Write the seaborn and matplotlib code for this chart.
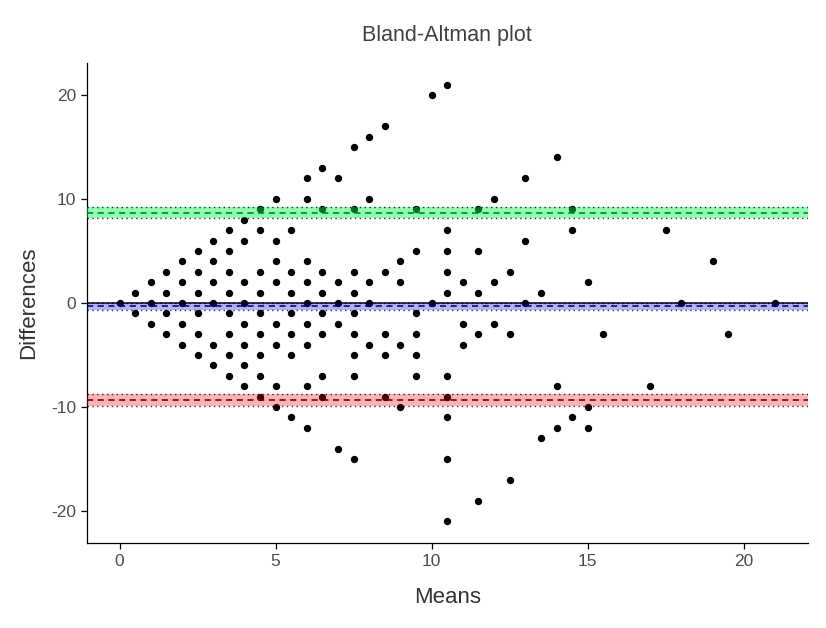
import numpy as np
import pandas as pd
import matplotlib
matplotlib.use("Agg")
import matplotlib.pyplot as plt
import seaborn as sns

# means (x) and differences (y)
means = [0,
         0.5, 0.5,
         1, 1, 1,
         1.5, 1.5, 1.5, 1.5,
         2, 2, 2, 2, 2,
         2.5, 2.5, 2.5, 2.5, 2.5, 2.5,
         3, 3, 3, 3, 3, 3,
         3.5, 3.5, 3.5, 3.5, 3.5, 3.5, 3.5, 3.5,
         4, 4, 4, 4, 4, 4, 4, 4,
         4.5, 4.5, 4.5, 4.5, 4.5, 4.5, 4.5, 4.5, 4.5,
         5, 5, 5, 5, 5, 5, 5, 5,
         5.5, 5.5, 5.5, 5.5, 5.5, 5.5, 5.5,
         6, 6, 6, 6, 6, 6, 6, 6, 6,
         6.5, 6.5, 6.5, 6.5, 6.5, 6.5, 6.5, 6.5,
         7, 7, 7, 7, 7,
         7.5, 7.5, 7.5, 7.5, 7.5, 7.5, 7.5, 7.5, 7.5,
         8, 8, 8, 8, 8,
         8.5, 8.5, 8.5, 8.5, 8.5,
         9, 9, 9, 9,
         9.5, 9.5, 9.5, 9.5, 9.5, 9.5,
         10, 10,
         10.5, 10.5, 10.5, 10.5, 10.5, 10.5, 10.5, 10.5, 10.5, 10.5,
         11, 11, 11,
         11.5, 11.5, 11.5, 11.5, 11.5,
         12, 12, 12,
         12.5, 12.5, 12.5,
         13, 13, 13,
         13.5, 13.5,
         14, 14, 14,
         14.5, 14.5, 14.5,
         15, 15, 15,
         15.5,
         17, 17.5, 18, 19, 19.5, 21]
diffs = [0,
         1, -1,
         2, 0, -2,
         3, 1, -1, -3,
         4, 2, 0, -2, -4,
         5, 3, 1, -1, -3, -5,
         6, 4, 2, 0, -4, -6,
         7, 5, 3, 1, -1, -3, -5, -7,
         8, 6, 2, 0, -2, -4, -6, -8,
         9, 7, 3, 1, -1, -3, -5, -7, -9,
         10, 6, 4, 2, -2, -4, -8, -10,
         7, 3, 1, -1, -3, -5, -11,
         12, 10, 4, 2, 0, -2, -4, -8, -12,
         13, 9, 3, 1, -1, -3, -7, -9,
         12, 2, 0, -2, -14,
         15, 9, 3, 1, -1, -3, -5, -7, -15,
         16, 10, 2, 0, -4,
         17, 3, -3, -5, -9,
         4, 2, -4, -10,
         9, 5, -1, -3, -5, -7,
         20, 0,
         21, 7, 5, 3, 1, -7, -9, -11, -15, -21,
         2, -2, -4,
         9, 5, 1, -3, -19,
         10, 2, -2,
         3, -3, -17,
         12, 6, 0,
         1, -13,
         14, -8, -12,
         9, 7, -11,
         2, -10, -12,
         -3,
         -8, 7, 0, 4, -3, 0]

# bias and limits of agreement with their confidence bands
bias = -0.3
bias_ci = [-0.63, 0.03]
upper_loa = 8.7
upper_ci = [8.13, 9.27]
lower_loa = -9.3
lower_ci = [-9.87, -8.73]

df = pd.DataFrame({"Means": means, "Differences": diffs})

sns.set_style("ticks")
plt.rcParams["font.family"] = ["Liberation Sans", "DejaVu Sans"]
plt.rcParams["axes.unicode_minus"] = False

fig = plt.figure(figsize=(8.26, 6.28), dpi=100)
ax = fig.add_axes([0.105, 0.135, 0.873, 0.765])

sns.scatterplot(data=df, x="Means", y="Differences", color="black",
                s=28, edgecolor="black", linewidth=0, ax=ax, zorder=2)

ax.axhline(0, color="black", lw=1.1, zorder=3)
for level in [bias, upper_loa, lower_loa]:
    ax.axhline(level, color="black", lw=1.1, ls=(0, (4, 3)), zorder=3)

bands = [(bias_ci, "#0000ff", 0.3), (upper_ci, "#00ff50", 0.45), (lower_ci, "#ff0000", 0.3)]
for (lo, hi), col, a in bands:
    ax.axhspan(lo, hi, color=col, alpha=a, lw=0, zorder=4)
    ax.axhline(lo, color="black", lw=1.0, ls=(0, (1, 2.5)), zorder=5, alpha=0.8)
    ax.axhline(hi, color="black", lw=1.0, ls=(0, (1, 2.5)), zorder=5, alpha=0.8)

ax.set_xlim(-1.05, 22.05)
ax.set_ylim(-23.1, 23.1)
ax.set_xticks([0, 5, 10, 15, 20])
ax.set_yticks([-20, -10, 0, 10, 20])
sns.despine(ax=ax)
for sp in ax.spines.values():
    sp.set_linewidth(0.9)
    sp.set_color("black")
ax.tick_params(colors="#4d4d4d", labelsize=12.5, length=4, width=0.9)
ax.tick_params(axis="both", color="black")

ax.set_xlabel("Means", fontsize=16, color="#333333", labelpad=13)
ax.set_ylabel("Differences", fontsize=16, color="#333333", labelpad=9)
ax.set_title("Bland-Altman plot", fontsize=15.5, color="#404040", pad=16)

fig.savefig("out.png", dpi=100)
